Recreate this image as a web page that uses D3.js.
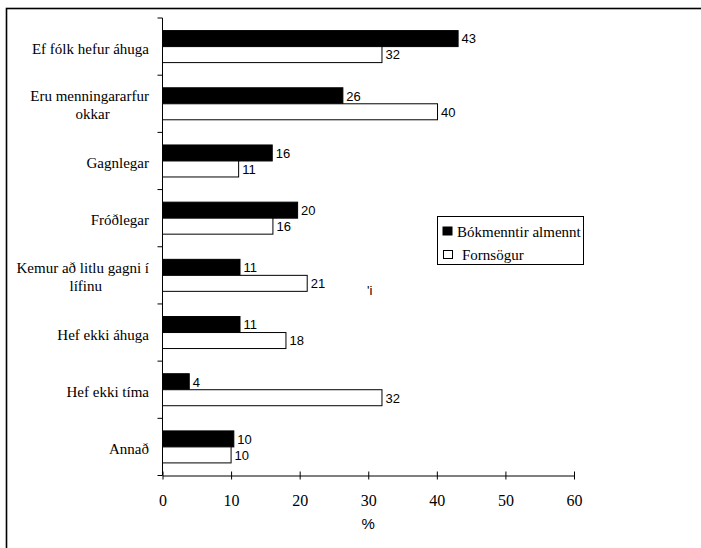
<!DOCTYPE html>
<html><head><meta charset="utf-8">
<script src="https://cdn.jsdelivr.net/npm/d3@7"></script>
<style>body{margin:0;background:#fff}svg{display:block}</style>
</head><body>
<script>
const categories = [
  ["Ef fólk hefur áhuga"],
  ["Eru menningararfur", "okkar"],
  ["Gagnlegar"],
  ["Fróðlegar"],
  ["Kemur að litlu gagni í", "lífinu"],
  ["Hef ekki áhuga"],
  ["Hef ekki tíma"],
  ["Annað"]
];
const seriesNames = ["Bókmenntir almennt", "Fornsögur"];
const bokmenntir = [43.1, 26.3, 16.0, 19.7, 11.3, 11.3, 3.9, 10.4];
const fornsogur = [32.0, 40.1, 11.1, 16.1, 21.1, 18.0, 32.0, 10.0];
const xTicks = [0, 10, 20, 30, 40, 50, 60];
const axisTitle = "%";

const W = 701, H = 548;
const svg = d3.select("body").append("svg").attr("width", W).attr("height", H);
const serif = '"Liberation Serif", "Times New Roman", Times, serif';
const sans = '"Liberation Sans", Arial, sans-serif';

svg.append("rect").attr("x", 6.5).attr("y", 8.5).attr("width", W + 10).attr("height", H + 10)
  .attr("fill", "none").attr("stroke", "#000").attr("stroke-width", 1.6);

const x0 = 162.5, x1 = 574, yTop = 18, yBot = 475.5;
const x = d3.scaleLinear().domain([0, 60]).range([x0, x1]);
const idx = categories.map((d, i) => i);
const y = d3.scaleBand().domain(idx).range([yTop, yBot]);
const barH = 16;

// x axis
const xAxis = d3.axisBottom(x).tickValues(xTicks).tickSize(5).tickSizeOuter(0);
const gx = svg.append("g").attr("transform", `translate(0,${yBot})`).call(xAxis);
gx.attr("font-family", null).attr("font-size", null);
gx.select(".domain").attr("stroke", "#000");
gx.selectAll(".tick line").attr("stroke", "#000").attr("y1", -4).attr("y2", 4);
gx.selectAll(".tick text").style("font-family", serif).style("font-size", "16px")
  .attr("fill", "#000").attr("dy", 0).attr("y", 30);

// y axis
const yAxisLine = svg.append("g");
yAxisLine.append("line").attr("x1", x0).attr("x2", x0).attr("y1", yTop).attr("y2", yBot).attr("stroke", "#000");
const yTickVals = idx.concat([idx.length]);
yAxisLine.selectAll("line.yt").data(yTickVals).join("line").attr("class", "yt")
  .attr("x1", x0 - 5).attr("x2", x0)
  .attr("y1", d => d < idx.length ? y(d) : yBot).attr("y2", d => d < idx.length ? y(d) : yBot)
  .attr("stroke", "#000");

// category labels
const labG = svg.append("g");
categories.forEach((lines, i) => {
  const cy = y(i) + y.bandwidth() / 2;
  if (lines.length === 1) {
    labG.append("text").attr("x", 149).attr("y", cy + 7).attr("text-anchor", "end")
      .style("font-family", serif).style("font-size", "15px").text(lines[0]);
  } else {
    const t1 = labG.append("text").attr("x", 149).attr("y", cy - 2.5).attr("text-anchor", "end")
      .style("font-family", serif).style("font-size", "15px").text(lines[0]);
    const w = t1.node().getComputedTextLength();
    labG.append("text").attr("x", 149 - w / 2 + 3).attr("y", cy + 15.7).attr("text-anchor", "middle")
      .style("font-family", serif).style("font-size", "15px").text(lines[1]);
  }
});

// bars
const bars = svg.append("g");
const series = [{vals: bokmenntir, fill: "#000", off: 0}, {vals: fornsogur, fill: "#fff", off: barH}];
series.forEach(s => {
  bars.selectAll(null).data(s.vals).join("rect")
    .attr("x", x(0))
    .attr("y", (d, i) => y(i) + y.bandwidth() / 2 - barH + s.off)
    .attr("width", d => x(d) - x(0))
    .attr("height", barH)
    .attr("fill", s.fill).attr("stroke", "#000").attr("stroke-width", 1);
  bars.selectAll(null).data(s.vals).join("text")
    .attr("x", d => x(d) + 3.5)
    .attr("y", (d, i) => y(i) + y.bandwidth() / 2 - barH + s.off + 12.8)
    .style("font-family", sans).style("font-size", "13px")
    .text(d => d3.format(".0f")(d));
});

// axis title
svg.append("text").attr("x", (x0 + x1) / 2).attr("y", 529).attr("text-anchor", "middle")
  .style("font-family", sans).style("font-size", "15px").text(axisTitle);

// stray mark
svg.append("text").attr("x", 367).attr("y", 295).style("font-family", sans).style("font-size", "13px").text("'i");

// legend
const lg = svg.append("g");
lg.append("rect").attr("x", 437.5).attr("y", 216.5).attr("width", 146).attr("height", 48)
  .attr("fill", "#fff").attr("stroke", "#000");
lg.append("rect").attr("x", 443).attr("y", 227).attr("width", 9).attr("height", 8).attr("fill", "#000").attr("stroke", "#000");
lg.append("rect").attr("x", 443.5).attr("y", 250.5).attr("width", 9).attr("height", 8).attr("fill", "#fff").attr("stroke", "#000");
lg.append("text").attr("x", 457).attr("y", 236.5).style("font-family", serif).style("font-size", "15px").text(seriesNames[0]);
lg.append("text").attr("x", 462).attr("y", 260).style("font-family", serif).style("font-size", "15px").text(seriesNames[1]);
</script>
</body></html>
